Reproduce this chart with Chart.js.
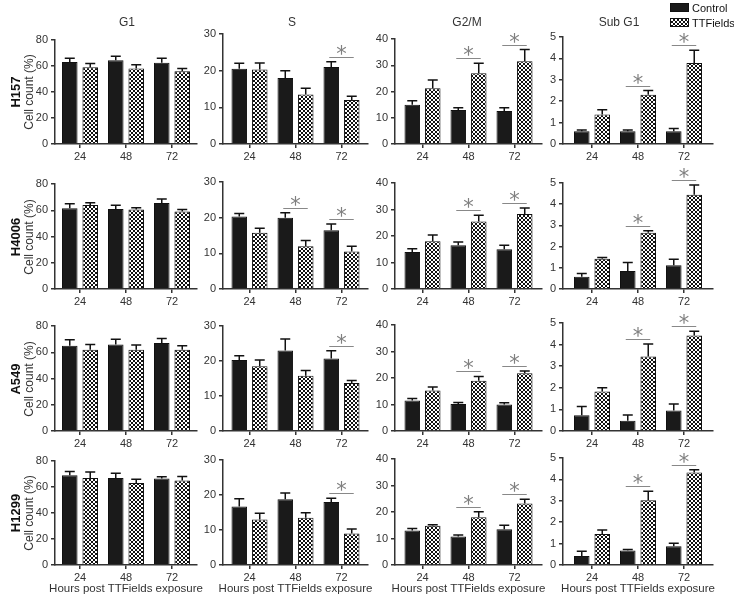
<!DOCTYPE html>
<html>
<head>
<meta charset="utf-8">
<script src="https://cdn.jsdelivr.net/npm/chart.js@4.4.1/dist/chart.umd.min.js"></script>
<style>
  body { margin: 0; background: #fff; font-family: "Liberation Sans", Arial, sans-serif; color: #333; }
  #wrap { position: relative; width: 734px; height: 599px; overflow: hidden; }
  canvas.panel { position: absolute; }
  .txt { position: absolute; white-space: nowrap; transform: translate(-50%, -50%); line-height: 1; }
  .left { transform: translate(0, -50%); }
  .rot { transform: translate(-50%, -50%) rotate(-90deg); }
  .swatch { position: absolute; width: 19px; height: 9px; border: 1px solid #111; box-sizing: border-box; }
</style>
</head>
<body>
<div id="wrap"></div>
<script>
// values (mean, upward error bar), one inner list per phase: G1, S, G2/M, Sub G1
const hours = ['24', '48', '72'];
const phases = ['G1', 'S', 'G2/M', 'Sub G1'];
const cellLines = ['H157', 'H4006', 'A549', 'H1299'];
const yMax = [80, 30, 40, 5];
const yStep = [20, 10, 10, 1];

const h157Control    = [[63, 64.5, 62.5], [20.5, 18, 21], [15, 13, 12.6], [0.6, 0.6, 0.6]];
const h157ControlErr = [[3, 3, 3.5], [1.5, 2, 1.4], [1.5, 0.8, 1.2], [0.05, 0.05, 0.12]];
const h157TTF        = [[59, 58, 56], [20.3, 13.5, 12], [21.2, 27, 31.5], [1.38, 2.3, 3.78]];
const h157TTFErr     = [[3, 3, 2], [1.8, 1.7, 1], [3.2, 3.8, 4.5], [0.22, 0.2, 0.6]];
const h157Sig        = [[0, 0, 0], [0, 0, 1], [0, 1, 1], [0, 1, 1]];

const h4006Control    = [[61.5, 61, 65.5], [20.3, 20, 16.5], [14, 16.5, 15], [0.58, 0.85, 1.12]];
const h4006ControlErr = [[3.5, 2.8, 3], [0.9, 1.4, 1.7], [1.2, 1.2, 1.5], [0.15, 0.4, 0.28]];
const h4006TTF        = [[64, 60.5, 59], [15.8, 12, 10.5], [18, 25.5, 28.3], [1.43, 2.65, 4.45]];
const h4006TTFErr     = [[1.8, 1.5, 1.5], [1.2, 1.6, 1.5], [2.4, 2.3, 2.3], [0.06, 0.1, 0.45]];
const h4006Sig        = [[0, 0, 0], [0, 1, 1], [0, 1, 1], [0, 1, 1]];

const a549Control    = [[65, 66, 67], [20.3, 23, 20.7], [11.5, 10.2, 10], [0.73, 0.47, 0.95]];
const a549ControlErr = [[4.5, 4, 3.5], [1.2, 3.3, 2.2], [0.8, 0.6, 0.7], [0.4, 0.27, 0.3]];
const a549TTF        = [[62, 62, 62], [18.5, 15.8, 13.7], [15.3, 19, 21.8], [1.83, 3.45, 4.42]];
const a549TTFErr     = [[4, 3.5, 3], [1.8, 1.5, 0.7], [1.3, 1.6, 0.8], [0.17, 0.58, 0.2]];
const a549Sig        = [[0, 0, 0], [0, 0, 1], [0, 1, 1], [0, 1, 1]];

const h1299Control    = [[69, 67, 66.5], [16.7, 18.8, 18], [13, 10.8, 13.5], [0.42, 0.68, 0.88]];
const h1299ControlErr = [[3, 3.5, 1.3], [2.2, 1.8, 1.1], [0.8, 0.5, 1.5], [0.22, 0.04, 0.14]];
const h1299TTF        = [[67, 63, 65], [13, 13.5, 9], [14.8, 18, 23.2], [1.45, 3.02, 4.32]];
const h1299TTFErr     = [[4.5, 3, 3], [1.8, 1.4, 1.3], [0.4, 2.1, 1.6], [0.18, 0.43, 0.13]];
const h1299Sig        = [[0, 0, 0], [0, 0, 1], [0, 1, 1], [0, 1, 1]];

const controlMeans = [h157Control, h4006Control, a549Control, h1299Control];
const controlErrs  = [h157ControlErr, h4006ControlErr, a549ControlErr, h1299ControlErr];
const ttfMeans     = [h157TTF, h4006TTF, a549TTF, h1299TTF];
const ttfErrs      = [h157TTFErr, h4006TTFErr, a549TTFErr, h1299TTFErr];
const sigFlags     = [h157Sig, h4006Sig, a549Sig, h1299Sig];

// panel plot areas in page pixels
const colLeft = [55, 223, 395, 563];
const colRight = [197, 368, 542, 713];
const rowBottom = [144, 289, 431, 565];
const plotTop = [[40, 34, 39, 37], [184, 182, 183, 183], [326, 326, 325, 323], [461, 460, 459, 458]];
const titleX = [127, 292, 467, 619];

Chart.defaults.font.family = '"Liberation Sans", Arial, sans-serif';
Chart.defaults.color = '#333';

const wrap = document.getElementById('wrap');

// checkered fill for the TTFields bars
const tile = document.createElement('canvas');
tile.width = 4; tile.height = 4;
const tctx = tile.getContext('2d');
tctx.fillStyle = '#111';
tctx.fillRect(0, 0, 4, 4);
tctx.fillStyle = '#fff';
tctx.fillRect(0, 0, 2, 2);
tctx.fillRect(2, 2, 2, 2);
const checker = tctx.createPattern(tile, 'repeat');

// error bars (upward only) and significance marks
const errorBars = {
    id: 'errorBars',
    afterDatasetsDraw(chart, args, opts) {
        const ctx = chart.ctx;
        const yScale = chart.scales.y;
        const tops = [];
        ctx.save();
        ctx.strokeStyle = '#111';
        ctx.lineWidth = 1.5;
        chart.data.datasets.forEach((ds, d) => {
            const meta = chart.getDatasetMeta(d);
            tops[d] = [];
            meta.data.forEach((bar, i) => {
                const top = yScale.getPixelForValue(ds.data[i].y + ds.err[i]);
                tops[d][i] = top;
                ctx.beginPath();
                ctx.moveTo(bar.x, bar.y);
                ctx.lineTo(bar.x, top);
                ctx.moveTo(bar.x - 5, top);
                ctx.lineTo(bar.x + 5, top);
                ctx.stroke();
            });
        });

        const a = chart.getDatasetMeta(0).data;
        const b = chart.getDatasetMeta(1).data;
        opts.sig.forEach((s, i) => {
            if (!s) return;
            const lineY = Math.round(Math.min(tops[0][i], tops[1][i]) - 5) + 0.5;
            ctx.strokeStyle = '#888';
            ctx.lineWidth = 1;
            ctx.beginPath();
            ctx.moveTo(a[i].x - 2, lineY);
            ctx.lineTo(b[i].x + 2, lineY);
            ctx.stroke();
            ctx.fillStyle = '#808080';
            ctx.font = '21px "DejaVu Sans", sans-serif';
            ctx.textAlign = 'center';
            ctx.textBaseline = 'alphabetic';
            ctx.fillText('*', (a[i].x + b[i].x) / 2, lineY + 3);
        });
        ctx.restore();
    }
};

function addText(text, x, y, style, cls) {
    const el = document.createElement('div');
    el.className = 'txt' + (cls ? ' ' + cls : '');
    el.textContent = text;
    el.style.left = x + 'px';
    el.style.top = y + 'px';
    Object.assign(el.style, style || {});
    wrap.appendChild(el);
}

function makePanel(r, c) {
    const w = colRight[c] - colLeft[c];
    const h = rowBottom[r] - plotTop[r][c];
    const cv = document.createElement('canvas');
    cv.className = 'panel';
    cv.width = w + 48;
    cv.height = h + 58;
    cv.style.left = (colLeft[c] - 40) + 'px';
    cv.style.top = (plotTop[r][c] - 30) + 'px';
    wrap.appendChild(cv);

    const pad = (w / 46 - 2) / 2;
    const toPts = arr => arr.map((v, i) => ({ x: i + 1, y: v }));

    new Chart(cv, {
        type: 'bar',
        data: {
            datasets: [{
                label: 'Control',
                data: toPts(controlMeans[r][c]),
                err: controlErrs[r][c],
                backgroundColor: '#1a1a1a',
                borderColor: '#111',
                borderWidth: 1,
                categoryPercentage: 0.89,
                barPercentage: 0.76
            }, {
                label: 'TTFields',
                data: toPts(ttfMeans[r][c]),
                err: ttfErrs[r][c],
                backgroundColor: checker,
                borderColor: '#111',
                borderWidth: 1,
                categoryPercentage: 0.89,
                barPercentage: 0.76
            }]
        },
        options: {
            responsive: false,
            animation: false,
            events: [],
            layout: { padding: { left: 0, top: 30, right: 8, bottom: 0 } },
            plugins: {
                legend: { display: false },
                tooltip: { enabled: false },
                errorBars: { sig: sigFlags[r][c] }
            },
            scales: {
                x: {
                    type: 'linear',
                    min: 1 - pad,
                    max: 3 + pad,
                    offset: false,
                    afterBuildTicks: s => { s.ticks = hours.map((_, i) => ({ value: i + 1 })); },
                    afterFit: s => { s.height = 28; },
                    ticks: {
                        callback: v => hours[v - 1],
                        font: { size: 11 },
                        padding: 2,
                        autoSkip: false,
                        maxRotation: 0
                    },
                    grid: { display: true, offset: false, drawOnChartArea: false, tickLength: 4, color: '#333', lineWidth: 1.5 },
                    border: { color: '#333', width: 1.5 }
                },
                y: {
                    min: 0,
                    max: yMax[c],
                    afterFit: s => { s.width = 40; },
                    ticks: { stepSize: yStep[c], font: { size: 11 }, padding: 3 },
                    grid: { display: true, drawOnChartArea: false, tickLength: 4, color: '#333', lineWidth: 1.5 },
                    border: { color: '#333', width: 1.5 }
                }
            }
        },
        plugins: [errorBars]
    });
}

for (let r = 0; r < cellLines.length; r++) {
    for (let c = 0; c < phases.length; c++) {
        makePanel(r, c);
    }
    const mid = (plotTop[r][0] + rowBottom[r]) / 2;
    addText(cellLines[r], 15, mid, { fontSize: '13px', fontWeight: 'bold', color: '#111' }, 'rot');
    addText('Cell count (%)', 29, mid, { fontSize: '12px' }, 'rot');
}

phases.forEach((p, c) => {
    addText(p, titleX[c], 22, { fontSize: '12px' });
    addText('Hours post TTFields exposure', (colLeft[c] + colRight[c]) / 2, 589, { fontSize: '11.5px' });
});

// legend
const sw1 = document.createElement('div');
sw1.className = 'swatch';
Object.assign(sw1.style, { left: '670px', top: '3px', background: '#1a1a1a' });
wrap.appendChild(sw1);
const sw2 = document.createElement('div');
sw2.className = 'swatch';
Object.assign(sw2.style, { left: '670px', top: '18px', backgroundImage: 'url(' + tile.toDataURL() + ')' });
wrap.appendChild(sw2);
addText('Control', 692, 8, { fontSize: '11px', color: '#111' }, 'left');
addText('TTFields', 692, 23, { fontSize: '11px', color: '#111' }, 'left');
</script>
</body>
</html>
